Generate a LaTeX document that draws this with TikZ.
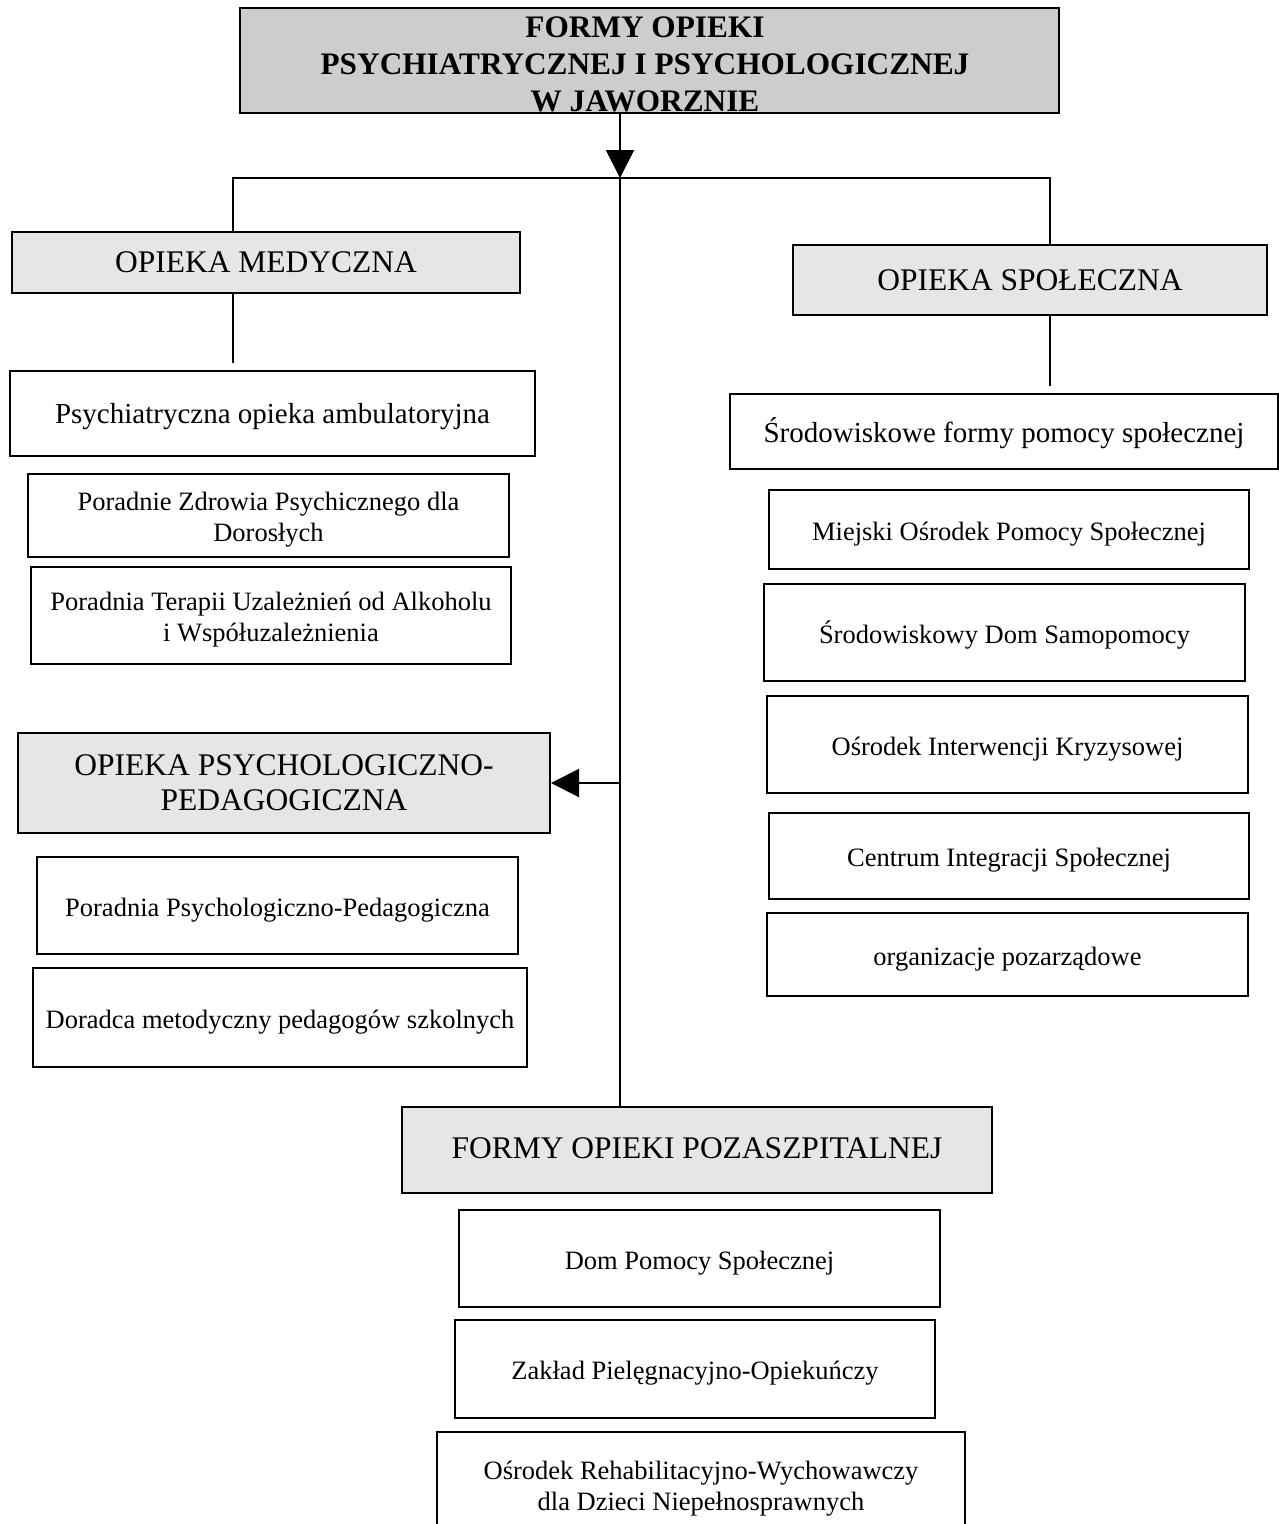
\documentclass[tikz,border=0pt]{standalone}
\usepackage{fontspec}
\setmainfont{Liberation Serif}
\usetikzlibrary{arrows.meta}
\definecolor{titlegray}{HTML}{CDCDCD}
\definecolor{headgray}{HTML}{E6E6E6}
% lowers the printed text without changing the size used for centring
\newcommand{\dn}[2]{\raisebox{-#1}[\height][\depth]{\begin{tabular}{@{}c@{}}#2\end{tabular}}}
\tikzset{
  box/.style={draw, line width=2pt, rectangle, inner sep=0pt, align=center},
  titlebox/.style={box, fill=titlegray},
  titletxt/.style={inner sep=0pt, align=center, font=\bfseries\fontsize{31.3}{37.2}\selectfont},
  headbox/.style={box, fill=headgray, font=\fontsize{31.5}{35}\selectfont},
  midbox/.style={box, fill=white, font=\fontsize{29}{33}\selectfont},
  smallbox/.style={box, fill=white, font=\fontsize{26.5}{31}\selectfont},
  conn/.style={line width=2pt},
  gap/.style={shorten >=7pt},
  tri/.style={-{Triangle[length=28pt,width=28pt]}}
}
\begin{document}
\begin{tikzpicture}[x=1pt,y=-1pt]
\useasboundingbox (0,0) rectangle (1279,1524);
\clip (0,0) rectangle (1279,1524);
% title
\node[titlebox, minimum width=819pt, minimum height=105pt] (title) at (649.5,60.5) {};
\node[titletxt, anchor=north] (titletext) at (645,16.6)
  {FORMY OPIEKI\\PSYCHIATRYCZNEJ I PSYCHOLOGICZNEJ\\W JAWORZNIE};
% left: medical
\node[headbox, minimum width=508pt, minimum height=61pt] (med) at (266,262.5) {OPIEKA MEDYCZNA};
\node[midbox, minimum width=525pt, minimum height=85pt] (psyamb) at (272.5,413.5) {\dn{3pt}{Psychiatryczna opieka ambulatoryjna}};
\node[smallbox, minimum width=481pt, minimum height=83pt] (pzp) at (268.5,515.5) {\dn{4.5pt}{Poradnie Zdrowia Psychicznego dla\\Dorosłych}};
\node[smallbox, minimum width=480pt, minimum height=97pt] (ptu) at (271,615.5) {\dn{4.5pt}{Poradnia Terapii Uzależnień od Alkoholu\\i Współuzależnienia}};
% left: psych-ped
\node[headbox, minimum width=532pt, minimum height=100pt] (psped) at (284,783) {\dn{2.5pt}{OPIEKA PSYCHOLOGICZNO-\\PEDAGOGICZNA}};
\node[smallbox, minimum width=481pt, minimum height=97pt] (ppp) at (277.5,905.5) {\dn{4.5pt}{Poradnia Psychologiczno-Pedagogiczna}};
\node[smallbox, minimum width=494pt, minimum height=99pt] (dor) at (280,1017.5) {\dn{4.5pt}{Doradca metodyczny pedagogów szkolnych}};
% right: social
\node[headbox, minimum width=474pt, minimum height=70pt] (spol) at (1030,280) {OPIEKA SPOŁECZNA};
\node[midbox, minimum width=548pt, minimum height=75pt] (srod) at (1004,431.5) {\dn{3pt}{Środowiskowe formy pomocy społecznej}};
\node[smallbox, minimum width=480pt, minimum height=79pt] (mops) at (1009,529.5) {\dn{4.5pt}{Miejski Ośrodek Pomocy Społecznej}};
\node[smallbox, minimum width=481pt, minimum height=97pt] (sds) at (1004.5,632.5) {\dn{4.5pt}{Środowiskowy Dom Samopomocy}};
\node[smallbox, minimum width=481pt, minimum height=97pt] (oik) at (1007.5,744.5) {\dn{4.5pt}{Ośrodek Interwencji Kryzysowej}};
\node[smallbox, minimum width=480pt, minimum height=86pt] (cis) at (1009,856) {\dn{4.5pt}{Centrum Integracji Społecznej}};
\node[smallbox, minimum width=481pt, minimum height=83pt] (org) at (1007.5,954.5) {\dn{4.5pt}{organizacje pozarządowe}};
% bottom
\node[headbox, minimum width=590pt, minimum height=86pt] (poza) at (697,1150) {\dn{1.5pt}{FORMY OPIEKI POZASZPITALNEJ}};
\node[smallbox, minimum width=481pt, minimum height=97pt] (dps) at (699.5,1258.5) {\dn{4.5pt}{Dom Pomocy Społecznej}};
\node[smallbox, minimum width=480pt, minimum height=98pt] (zpo) at (695,1369) {\dn{4.5pt}{Zakład Pielęgnacyjno-Opiekuńczy}};
\node[smallbox, minimum width=528pt, minimum height=108pt] (orw) at (701,1486) {\dn{2.5pt}{Ośrodek Rehabilitacyjno-Wychowawczy\\dla Dzieci Niepełnosprawnych}};
% connectors
\coordinate (j) at (620,178);
\coordinate (jl) at (233,178);
\coordinate (jr) at (1050,178);
\draw[conn, tri] (j |- title.south) -- (j);
\draw[conn] (jl |- med.north) -- (jl) -- (jr) -- (jr |- spol.north);
\draw[conn] (j) -- (j |- poza.north);
\draw[conn, tri] (j |- psped.east) -- (psped.east);
\draw[conn, gap] (jl |- med.south) -- (jl |- psyamb.north);
\draw[conn, gap] (jr |- spol.south) -- (jr |- srod.north);
\end{tikzpicture}
\end{document}
